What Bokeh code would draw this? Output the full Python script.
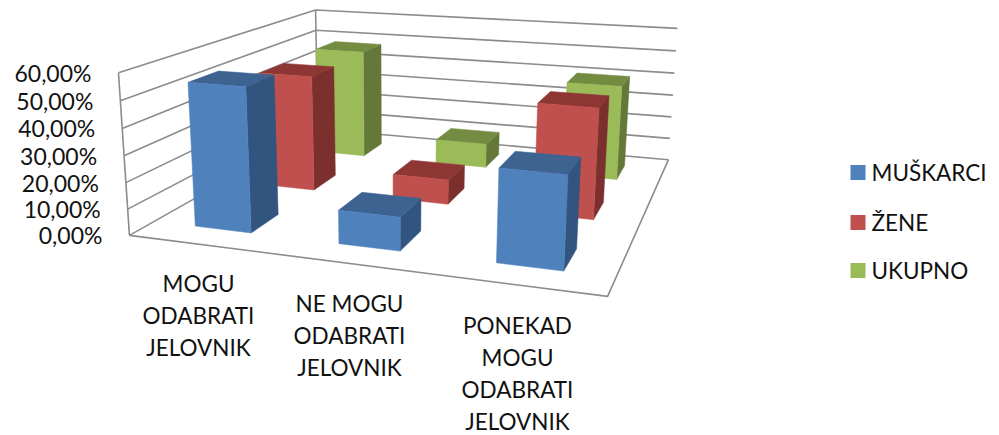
import numpy as np
from bokeh.plotting import figure
from bokeh.models import Range1d
from bokeh.core.properties import value
from bokeh.embed import file_html
from bokeh.resources import INLINE

categories = [["MOGU", "ODABRATI", "JELOVNIK"],
              ["NE MOGU", "ODABRATI", "JELOVNIK"],
              ["PONEKAD", "MOGU", "ODABRATI", "JELOVNIK"]]
series_names = ["MUŠKARCI", "ŽENE", "UKUPNO"]
muskarci = [54.5, 12.5, 33.5]
zene = [47.5, 10.0, 43.5]
ukupno = [48.0, 10.5, 40.5]
tick_values = [0, 10, 20, 30, 40, 50, 60]
tick_labels = ["0,00%", "10,00%", "20,00%", "30,00%", "40,00%", "50,00%", "60,00%"]

front_colors = ["#4F81BD", "#C0504D", "#9BBB59"]
side_colors = ["#32557F", "#7C302E", "#64783A"]
top_colors = ["#3D6391", "#8E3634", "#748C42"]
GRID = "#8C8C8C"
FONT = "Lato"

# Perspective camera fitted to the corners of the chart box (u, v, w) -> page px
corners = [((0, 0, 0), (129, 235)), ((3, 0, 0), (607, 296)), ((3, 3, 0), (668, 159)),
           ((0, 0, 60), (118, 72)), ((0, 3, 60), (315, 9.5)),
           ((3, 3, 60), (677, 28))]
rows = []
for (X, Y, Z), (sx, sy) in corners:
    rows.append([X, Y, Z, 1, 0, 0, 0, 0, -sx * X, -sx * Y, -sx * Z, -sx])
    rows.append([0, 0, 0, 0, X, Y, Z, 1, -sy * X, -sy * Y, -sy * Z, -sy])
M = np.linalg.svd(np.array(rows, float))[2][-1].reshape(3, 4)


def proj(u, v, w):
    h = M @ np.array([u, v, w, 1.0])
    return h[0] / h[2], h[1] / h[2]


def poly(pts):
    xy = [proj(*q) for q in pts]
    return [a for a, _ in xy], [b for _, b in xy]


p = figure(width=999, height=435, output_backend="svg", toolbar_location=None,
           x_range=Range1d(0, 999), y_range=Range1d(435, 0), min_border=0)
p.axis.visible = False
p.grid.visible = False
p.outline_line_color = None
p.background_fill_color = "white"

# Walls and floor
gx, gy = [], []
for t in tick_values:
    a, b = poly([(0, 0, t), (0, 3, t), (3, 3, t)])
    gx.append(a)
    gy.append(b)
for pts in ([(0, 0, 0), (0, 0, 60)], [(0, 3, 0), (0, 3, 60)],
            [(0, 0, 0), (3, 0, 0), (3, 3, 0)]):
    a, b = poly(pts)
    gx.append(a)
    gy.append(b)
p.multi_line(gx, gy, line_color=GRID, line_width=1.6)

# Bars: back row first
W = 0.2
for s in [2, 1, 0]:
    vals = [muskarci, zene, ukupno][s]
    v0, v1 = s + 0.5 - W, s + 0.5 + W
    for c in range(3):
        u0, u1 = c + 0.5 - W, c + 0.5 + W
        h = vals[c]
        faces = [([(u1, v0, 0), (u1, v1, 0), (u1, v1, h), (u1, v0, h)], side_colors[s]),
                 ([(u0, v0, h), (u1, v0, h), (u1, v1, h), (u0, v1, h)], top_colors[s]),
                 ([(u0, v0, 0), (u1, v0, 0), (u1, v0, h), (u0, v0, h)], front_colors[s])]
        for pts, col in faces:
            a, b = poly(pts)
            p.patch(a, b, fill_color=col, line_color=col, line_width=0.5)


def label(x, y, s, align, fs="22.5px"):
    p.text([x], [y], text=[s], text_font=value(FONT), text_font_size=value(fs),
           text_color="#111111", text_align=align, text_baseline="middle")


# Value axis labels, right aligned along the slanted wall edge
for t, s in zip(tick_values, tick_labels):
    x, y = proj(0, 0, t)
    label(x - 27, y, s, "right", "23px")

# Category labels
cat_x = [198, 349, 517]
cat_y = [283, 303, 325]
for lines, cx, cy in zip(categories, cat_x, cat_y):
    for i, s in enumerate(lines):
        label(cx, cy + i * 32, s, "center")

# Legend
leg_y = [172, 222, 270]
for s, y, col in zip(series_names, leg_y, front_colors):
    p.quad(left=[850], right=[865], top=[y - 7.5], bottom=[y + 7.5], fill_color=col, line_color=None)
    label(871, y, s, "left")

open("out.html", "w").write(file_html(p, INLINE))
